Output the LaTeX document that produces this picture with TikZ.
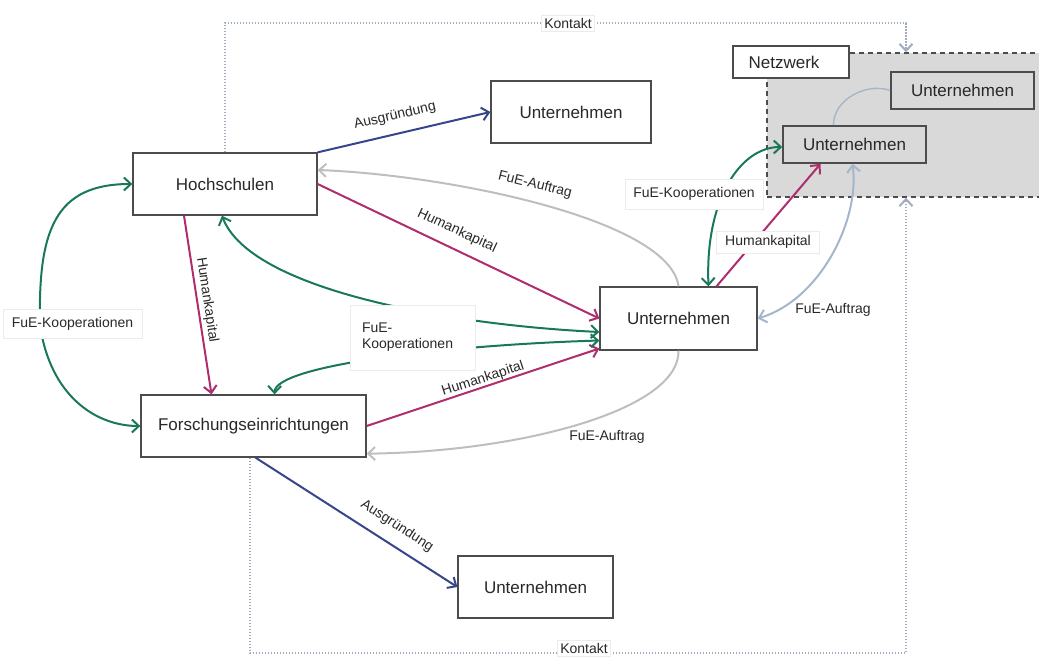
\documentclass[tikz,border=0pt]{standalone}
\usepackage{fontspec}
\setmainfont{Liberation Sans}
\usetikzlibrary{arrows.meta}
\definecolor{cgreen}{RGB}{25,120,90}
\definecolor{cmag}{RGB}{175,45,110}
\definecolor{cblue}{RGB}{55,70,140}
\definecolor{cgray}{RGB}{190,190,190}
\definecolor{cbgray}{RGB}{165,182,202}
\definecolor{cdot}{RGB}{160,172,192}
\definecolor{ctext}{RGB}{40,40,40}
\definecolor{netfill}{RGB}{217,217,217}
\begin{document}
\begin{tikzpicture}[x=1pt,y=-1pt,
 box/.style={draw=black!70,line width=1.3pt,fill=white,inner sep=0pt,font=\fontsize{17}{20}\selectfont,text=ctext},
 lbl/.style={font=\fontsize{14}{16}\selectfont,text=ctext,inner sep=1pt},
 lblbox/.style={lbl,fill=white,draw=black!8,line width=0.6pt,inner sep=3pt},
 tip/.tip={Straight Barb[length=7pt,width=13pt]},
 arr/.style={line width=2pt,-tip},
 darr/.style={line width=2pt,tip-tip},
 dotline/.style={draw=cdot,line width=2pt,dash pattern=on 1.4pt off 1.6pt,-tip}]
\useasboundingbox (0,0) rectangle (1039,660);

% network area
\node[draw=black!70,fill=netfill,line width=1.4pt,dash pattern=on 5pt off 4pt,minimum width=278pt,minimum height=144pt,inner sep=0pt] (net) at (906,125) {};
\node[box,minimum width=116pt,minimum height=32pt] (nw) at (791,62) {\hspace*{-14pt}Netzwerk};
\node[box,fill=netfill,line width=1.6pt,minimum width=143pt,minimum height=37pt] (un) at (854.5,144.5) {Unternehmen};
\node[box,fill=netfill,line width=1.6pt,minimum width=143pt,minimum height=37pt] (ur) at (962.5,90.5) {Unternehmen};
\draw[cbgray,line width=1.4pt] ([xshift=-21pt]un.north) .. controls (833,100) and (866,82) .. (ur.west);

% main nodes
\node[box,minimum width=184pt,minimum height=62pt] (hs) at (225,184) {Hochschulen};
\node[box,minimum width=160pt,minimum height=62pt] (ut) at (571,112) {Unternehmen};
\node[box,minimum width=225pt,minimum height=62pt] (fe) at (253.5,426) {Forschungseinrichtungen};
\node[box,minimum width=157pt,minimum height=63pt] (um) at (678.5,318.5) {Unternehmen};
\node[box,minimum width=155pt,minimum height=62pt] (ub) at (535.5,587) {Unternehmen};

% Kontakt
\draw[dotline] (hs.north) -- ++(0,-129) -| (net.north);
\draw[dotline] ([xshift=-4pt]fe.south) -- ++(0,195) -| (net.south);
\node[lblbox] (k1) at (568,23) {Kontakt};
\node[lblbox] (k2) at (584,648) {Kontakt};

% Ausgruendung
\draw[arr,cblue] (hs.north east) -- (ut.west);
\draw[arr,cblue] ([xshift=2pt]fe.south) -- (ub.west);

% FuE-Auftrag
\draw[arr,cgray] (um.north) .. controls (670,220) and (450,175) .. ([yshift=14pt]hs.east);
\draw[arr,cgray] (um.south) .. controls (680,410) and (520,452) .. ([yshift=4pt]fe.south east);

% Humankapital
\draw[arr,cmag] (hs.east) -- (um.west);
\draw[arr,cmag] (fe.east) -- ([yshift=-30pt]um.west);
\draw[arr,cmag] ([xshift=-41pt]hs.south) -- ([xshift=-42pt]fe.north);

% FuE-Kooperationen
\draw[darr,cgreen] (hs.west) .. controls (55,184) and (38,230) .. (40,325) .. controls (50,395) and (95,426) .. (fe.west);
\draw[darr,cgreen] ([xshift=-3pt]hs.south) .. controls (250,290) and (450,325) .. ([yshift=-13.5pt]um.west);
\draw[darr,cgreen] ([xshift=21pt]fe.north) .. controls (275,365) and (450,345) .. ([yshift=-22pt]um.west);

% right side
\draw[darr,cgreen] ([xshift=30pt]um.north) .. controls (705,200) and (740,147) .. ([yshift=-2.5pt]un.west);
\draw[arr,cmag] ([xshift=38pt]um.north) -- ([xshift=-34pt]un.south);
\draw[darr,cbgray] (um.east) .. controls (820,300) and (860,220) .. ([xshift=-2pt]un.south);

% label boxes
\node[lblbox,minimum width=139pt,minimum height=29pt] (l1) at (72.5,324) {FuE-Kooperationen};
\node[lblbox,align=left,text width=101pt,inner xsep=12pt,minimum height=65pt] (l2) at (412.5,337.5) {FuE-\\Kooperationen};
\node[lblbox,minimum width=138pt,minimum height=30pt] (l3) at (694,194) {FuE-Kooperationen};
\node[lblbox,inner sep=2pt,minimum width=103pt,minimum height=22pt] (l4) at (768,242) {Humankapital};

% plain labels
\node[lbl,rotate=13] at (395,116) {Ausgründung};
\node[lbl,rotate=-14] at (535,185) {FuE-Auftrag};
\node[lbl,rotate=-25] at (457,231) {Humankapital};
\node[lbl,rotate=-81.5] at (207,300) {Humankapital};
\node[lbl,rotate=18] at (483,379) {Humankapital};
\node[lbl,rotate=-33] at (397,526) {Ausgründung};
\node[lbl] at (607,437) {FuE-Auftrag};
\node[lbl] at (833,310) {FuE-Auftrag};
\end{tikzpicture}
\end{document}
